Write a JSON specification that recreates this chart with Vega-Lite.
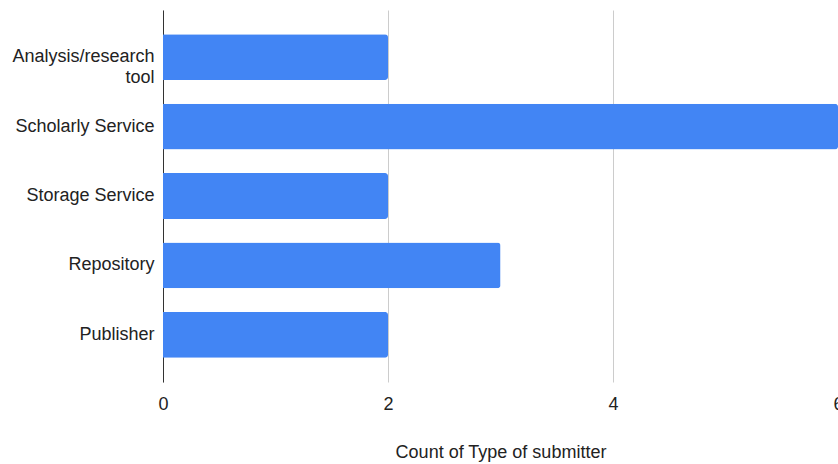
{
  "$schema": "https://vega.github.io/schema/vega-lite/v6.json",
  "autosize": {"type": "none"},
  "padding": {"left": 163, "top": 10, "right": 0, "bottom": 82},
  "width": 675,
  "height": 372,
  "background": "white",
  "config": {
    "view": {"stroke": null},
    "font": "Liberation Sans"
  },
  "data": {
    "values": [
      {"type": "Analysis/research tool", "count": 2},
      {"type": "Scholarly Service", "count": 6},
      {"type": "Storage Service", "count": 2},
      {"type": "Repository", "count": 3},
      {"type": "Publisher", "count": 2}
    ]
  },
  "mark": {"type": "bar", "fill": "#4285f4", "cornerRadiusEnd": 3},
  "encoding": {
    "y": {
      "field": "type",
      "type": "nominal",
      "sort": null,
      "scale": {"paddingInner": 0.34, "paddingOuter": 0.35},
      "axis": {
        "title": null,
        "ticks": false,
        "domainColor": "#333333",
        "domainWidth": 1,
        "labelFontSize": 18,
        "labelColor": "#222222",
        "labelPadding": 9,
        "labelLimit": 200,
        "labelLineHeight": 21,
        "labelExpr": "datum.label == 'Analysis/research tool' ? ['Analysis/research', 'tool'] : datum.label"
      }
    },
    "x": {
      "field": "count",
      "type": "quantitative",
      "scale": {"domain": [0, 6], "nice": false},
      "axis": {
        "title": "Count of Type of submitter",
        "values": [0, 2, 4, 6],
        "format": "d",
        "domain": false,
        "ticks": false,
        "grid": true,
        "gridColor": "#cccccc",
        "gridWidth": 1,
        "labelFontSize": 18,
        "labelColor": "#222222",
        "labelPadding": 13,
        "labelFlush": false,
        "titleFontSize": 18,
        "titleFontWeight": "normal",
        "titleColor": "#222222",
        "titlePadding": 30
      }
    }
  }
}
